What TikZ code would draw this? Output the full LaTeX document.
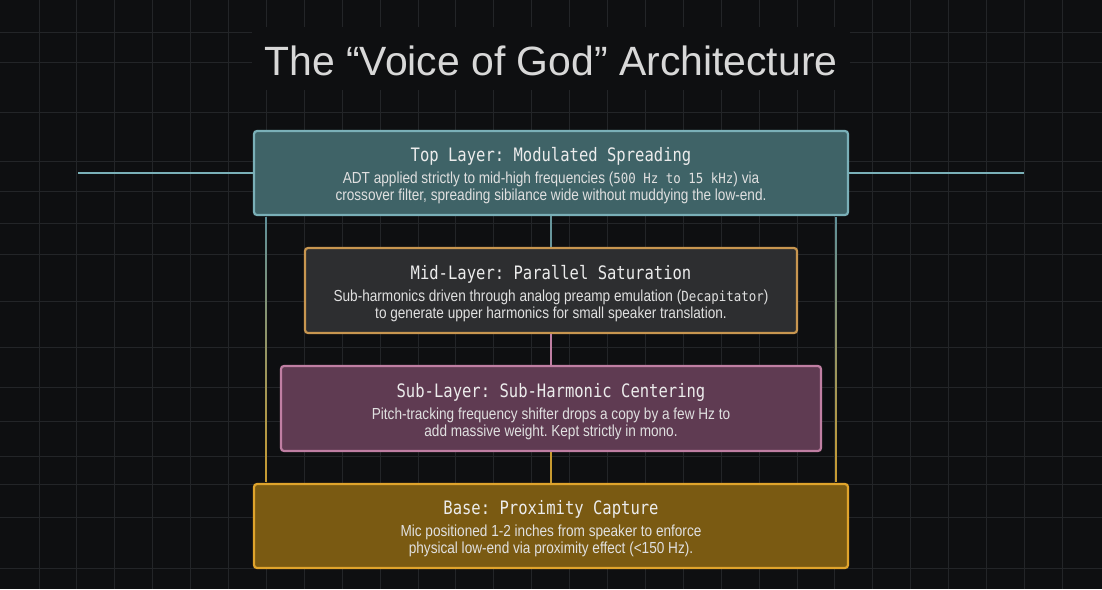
\documentclass[tikz,border=0pt]{standalone}
\usepackage{fontspec}
\setmainfont{Liberation Sans}
\newfontfamily\hdfont[FakeStretch=0.84]{DejaVu Sans Mono}
\newfontfamily\bodyfont[FakeStretch=0.85]{Liberation Sans}
\newfontfamily\bmono[FakeStretch=0.89]{DejaVu Sans Mono}
\newfontfamily\titlefont{Liberation Sans}
\frenchspacing
\usetikzlibrary{calc}
\definecolor{bgc}{HTML}{0E0F11}
\definecolor{gridc}{HTML}{232528}
\definecolor{topfill}{HTML}{3F6367}
\definecolor{topline}{HTML}{7AB0B8}
\definecolor{midfill}{HTML}{2D2E30}
\definecolor{midline}{HTML}{C89650}
\definecolor{subfill}{HTML}{5F3B52}
\definecolor{subline}{HTML}{C07FA3}
\definecolor{basefill}{HTML}{7A5A12}
\definecolor{baseline}{HTML}{E0A42C}
\definecolor{hdtext}{HTML}{ECECEC}
\definecolor{bodytext}{HTML}{E0E0E0}
\definecolor{titletext}{HTML}{D8D8D8}
\definecolor{sidetop}{HTML}{5F8F98}
\definecolor{sidebot}{HTML}{C89A30}
\newcommand{\hd}[1]{\rule{0pt}{20pt}{\hdfont\fontsize{18.5}{18}\selectfont\color{hdtext}#1}}
\newcommand{\mn}[1]{{\bmono\fontsize{14}{17}\selectfont #1}}
\tikzset{
  layer/.style={rounded corners=3pt, line width=2.2pt, inner sep=0pt,
    align=center, text=bodytext,
    font=\bodyfont\fontsize{16}{17}\selectfont},
  conn/.style={line width=1.6pt},
}
\begin{document}
\begin{tikzpicture}[x=1pt,y=-1pt]
\useasboundingbox (0,0) rectangle (1102,589);
\fill[bgc] (0,0) rectangle (1102,589);
\foreach \i in {0,...,27} \draw[gridc, line width=0.9pt] ({39+37.9*\i},0) -- ({39+37.9*\i},589);
\foreach \y in {32,62,112,161,191,223,254,301,347,387,421,456,484,517,568} \draw[gridc, line width=0.9pt] (0,\y) -- (1102,\y);
\fill[bgc] (252,27) rectangle (850,90);
\node[anchor=base, text=titletext, font=\titlefont\fontsize{40.9}{44}\selectfont, inner sep=0pt] (title) at (551,75) {The “Voice of God” Architecture};

% boxes
\node[layer, fill=topfill, draw=topline, minimum width=594pt, minimum height=84pt] (top) at (551,173)
  {\hd{Top Layer: Modulated Spreading}\\[5pt]
   ADT applied strictly to mid-high frequencies (\mn{500 Hz to 15 kHz}) via\\
   crossover filter, spreading sibilance wide without muddying the low-end.};
\node[layer, fill=midfill, draw=midline, minimum width=492pt, minimum height=85pt] (mid) at (551,290.5)
  {\hd{Mid-Layer: Parallel Saturation}\\[5pt]
   Sub-harmonics driven through analog preamp emulation (\mn{Decapitator})\\
   to generate upper harmonics for small speaker translation.};
\node[layer, fill=subfill, draw=subline, minimum width=540pt, minimum height=85pt] (sub) at (551,408.5)
  {\hd{Sub-Layer: Sub-Harmonic Centering}\\[5pt]
   Pitch-tracking frequency shifter drops a copy by a few Hz to\\
   add massive weight. Kept strictly in mono.};
\node[layer, fill=basefill, draw=baseline, minimum width=594pt, minimum height=84pt] (base) at (551,526)
  {\hd{Base: Proximity Capture}\\[5pt]
   Mic positioned 1-2 inches from speaker to enforce\\
   physical low-end via proximity effect (<150 Hz).};

% connectors
\coordinate (L) at (78,173);
\coordinate (R) at (1024,173);
\draw[conn, topline] (L) -- (top.west);
\draw[conn, topline] (top.east) -- (R);
\draw[conn, topline!85!black] (top.south) -- (mid.north);
\draw[conn, subline] (mid.south) -- (sub.north);
\draw[conn, sidebot] (sub.south) -- (base.north);
\shade[top color=sidetop, bottom color=sidebot] ($(top.south west)+(12.3,1)$) rectangle ($(base.north west)+(13.9,-1)$);
\shade[top color=sidetop, bottom color=sidebot] ($(top.south east)+(-13.9,1)$) rectangle ($(base.north east)+(-12.3,-1)$);
\end{tikzpicture}
\end{document}
